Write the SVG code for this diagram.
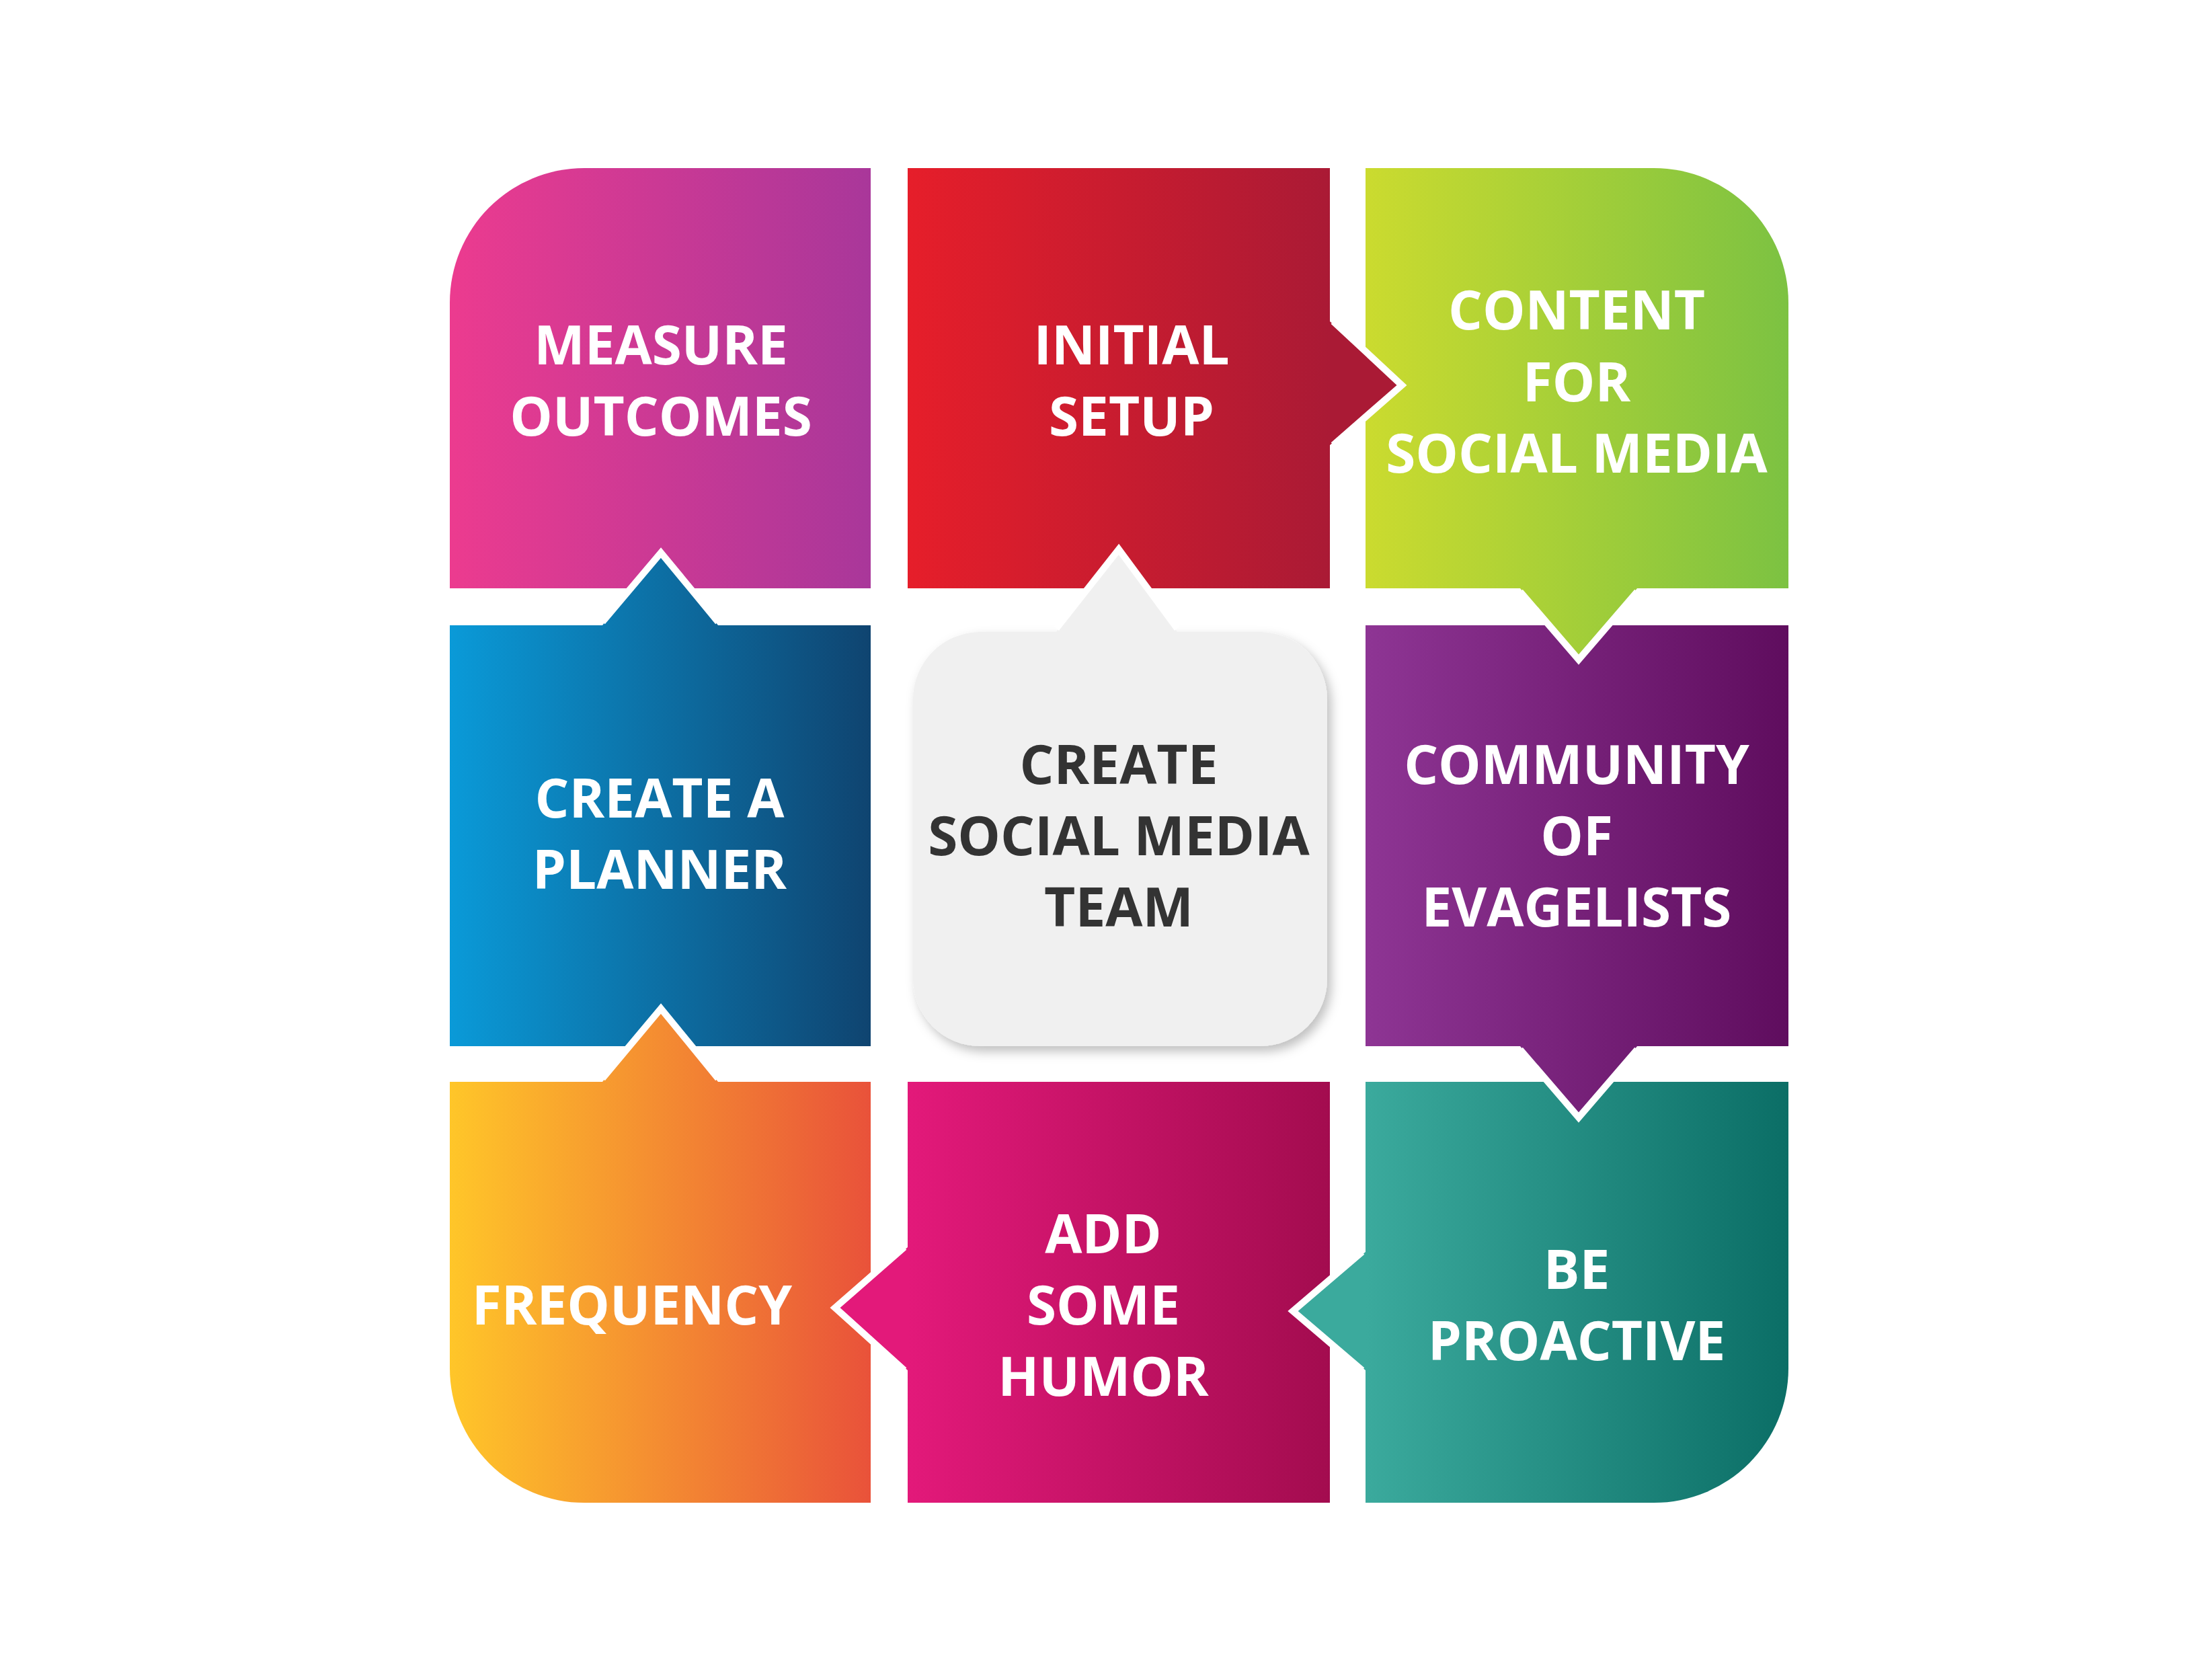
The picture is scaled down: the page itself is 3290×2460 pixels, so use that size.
<svg xmlns="http://www.w3.org/2000/svg" width="3290" height="2460" viewBox="0 0 3290 2460">
<defs>
<linearGradient id="gM" gradientUnits="userSpaceOnUse" x1="669" y1="0" x2="1295" y2="0"><stop offset="0" stop-color="#EC3B8F"/><stop offset="1" stop-color="#A9379A"/></linearGradient>
<linearGradient id="gI" gradientUnits="userSpaceOnUse" x1="1350" y1="0" x2="1978" y2="0"><stop offset="0" stop-color="#E61E2A"/><stop offset="1" stop-color="#AA1A35"/></linearGradient>
<linearGradient id="gC" gradientUnits="userSpaceOnUse" x1="2031" y1="0" x2="2660" y2="0"><stop offset="0" stop-color="#CBDB2F"/><stop offset="1" stop-color="#7CC242"/></linearGradient>
<linearGradient id="gP" gradientUnits="userSpaceOnUse" x1="669" y1="0" x2="1295" y2="0"><stop offset="0" stop-color="#0A9AD8"/><stop offset="1" stop-color="#0F4470"/></linearGradient>
<linearGradient id="gE" gradientUnits="userSpaceOnUse" x1="2031" y1="0" x2="2660" y2="0"><stop offset="0" stop-color="#8E3594"/><stop offset="1" stop-color="#5F0D5E"/></linearGradient>
<linearGradient id="gF" gradientUnits="userSpaceOnUse" x1="669" y1="0" x2="1295" y2="0"><stop offset="0" stop-color="#FFC629"/><stop offset="1" stop-color="#E9523A"/></linearGradient>
<linearGradient id="gH" gradientUnits="userSpaceOnUse" x1="1350" y1="0" x2="1978" y2="0"><stop offset="0" stop-color="#E3197A"/><stop offset="1" stop-color="#A30C4F"/></linearGradient>
<linearGradient id="gB" gradientUnits="userSpaceOnUse" x1="2031" y1="0" x2="2660" y2="0"><stop offset="0" stop-color="#3BAA9D"/><stop offset="1" stop-color="#0B6E66"/></linearGradient>
<filter id="sh" x="-10%" y="-10%" width="130%" height="130%"><feDropShadow dx="6" dy="8" stdDeviation="8" flood-color="#000" flood-opacity="0.25"/></filter>
</defs>
<style>
.t{font-family:"Open Sans","Noto Sans","DejaVu Sans",sans-serif;font-weight:bold;font-size:80px;fill:#fff;text-anchor:middle}
.d{fill:#333}
.w{fill:none;stroke:#fff;stroke-width:10;stroke-linejoin:miter}
</style>
<rect width="3290" height="2460" fill="#fff"/>
<g id="measure"><path d="M869,250 H1295 V875 H669 V450 A200,200 0 0 1 869,250 Z" fill="url(#gM)"/></g>
<g id="initial"><rect x="1350" y="250" width="628" height="625" fill="url(#gI)"/></g>
<g id="content"><path d="M2031,250 H2460 A200,200 0 0 1 2660,450 V875 H2031 Z" fill="url(#gC)"/></g>
<g id="planner"><rect x="669" y="930" width="626" height="626" fill="url(#gP)"/></g>
<g id="community"><rect x="2031" y="930" width="629" height="626" fill="url(#gE)"/></g>
<g id="frequency"><path d="M669,1609 H1295 V2235 H869 A200,200 0 0 1 669,2035 Z" fill="url(#gF)"/></g>
<g id="humor"><rect x="1350" y="1609" width="628" height="626" fill="url(#gH)"/></g>
<g id="proactive"><path d="M2031,1609 H2660 V2035 A200,200 0 0 1 2460,2235 H2031 Z" fill="url(#gB)"/></g>
<g id="center"><rect x="1358" y="940" width="616" height="616" rx="100" fill="#F0F0F0" filter="url(#sh)"/><polygon points="1571,940 1664,817 1751,940" fill="#F0F0F0"/><polyline class="w" points="1571,935 1664,817 1751,935"/></g>
<g id="connectors">
<polygon points="1978,478 2085,573 1978,662" fill="url(#gI)"/><polyline class="w" points="1983,478 2085,573 1983,662"/>
<polygon points="2261,875 2348,981 2435,875" fill="url(#gC)"/><polyline class="w" points="2261,880 2348,981 2435,880"/>
<polygon points="2261,1556 2348,1662 2435,1556" fill="url(#gE)"/><polyline class="w" points="2261,1561 2348,1662 2435,1561"/>
<polygon points="2031,1862 1923,1950 2031,2038" fill="url(#gB)"/><polyline class="w" points="2026,1862 1923,1950 2026,2038"/>
<polygon points="1350,1855 1242,1945 1350,2038" fill="url(#gH)"/><polyline class="w" points="1345,1855 1242,1945 1345,2038"/>
<polygon points="896,1609 983,1500 1068,1609" fill="url(#gF)"/><polyline class="w" points="896,1604 983,1500 1068,1604"/>
<polygon points="896,930 983,822 1068,930" fill="url(#gP)"/><polyline class="w" points="896,925 983,822 1068,925"/>
</g>
<g id="labels">
<text class="t" x="983" y="542">MEASURE</text><text class="t" x="983" y="648">OUTCOMES</text>
<text class="t" x="1683" y="542">INITIAL</text><text class="t" x="1683" y="648">SETUP</text>
<text class="t" x="2345" y="490">CONTENT</text><text class="t" x="2345" y="597">FOR</text><text class="t" x="2345" y="703">SOCIAL MEDIA</text>
<text class="t" x="981" y="1216">CREATE A</text><text class="t" x="981" y="1322">PLANNER</text>
<text class="t d" x="1664" y="1166">CREATE</text><text class="t d" x="1664" y="1272">SOCIAL MEDIA</text><text class="t d" x="1664" y="1378">TEAM</text>
<text class="t" x="2345" y="1166">COMMUNITY</text><text class="t" x="2345" y="1272">OF</text><text class="t" x="2345" y="1378">EVAGELISTS</text>
<text class="t" x="940" y="1970">FREQUENCY</text>
<text class="t" x="1641" y="1864">ADD</text><text class="t" x="1641" y="1970">SOME</text><text class="t" x="1641" y="2076">HUMOR</text>
<text class="t" x="2345" y="1917">BE</text><text class="t" x="2345" y="2023">PROACTIVE</text>
</g>
</svg>
